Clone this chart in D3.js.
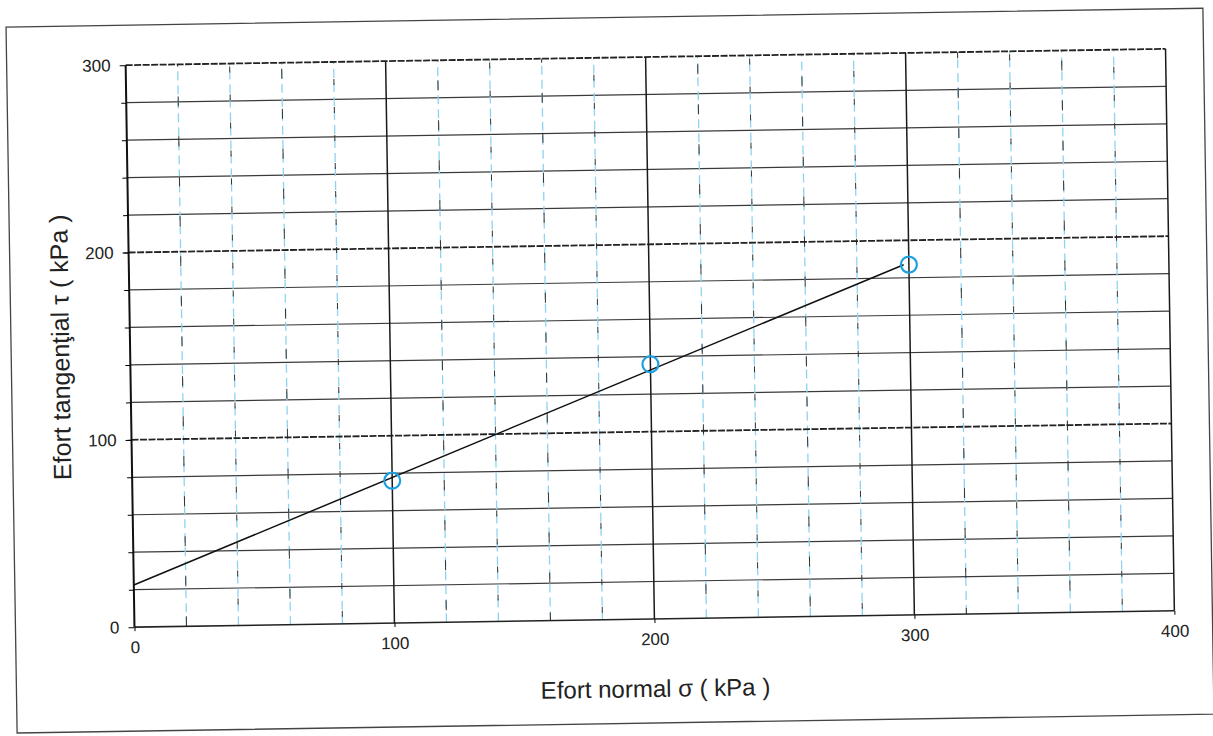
<!DOCTYPE html>
<html>
<head>
<meta charset="utf-8">
<script src="https://cdn.jsdelivr.net/npm/d3@7"></script>
<style>
  html, body { margin: 0; padding: 0; background: #ffffff; }
  svg { display: block; }
  text { font-family: "Liberation Sans", Arial, sans-serif; fill: #222; }
</style>
</head>
<body>
<div id="chart"></div>
<script>
// ---- data ----
const sigmaPoints = [100, 200, 300];          // normal stress (kPa)
const tauPoints   = [76, 136, 187];           // shear stress (kPa)
const trendSigma  = [0, 298];                 // trend line ends (kPa)
const trendTau    = [22.5, 187];
const xTicks = [0, 100, 200, 300, 400];
const yTicks = [0, 100, 200, 300];
const xMinor = d3.range(20, 400, 20);
const yMinor = d3.range(20, 300, 20);
const xTitle = "Efort normal σ  ( kPa )";
const yTitle = "Efort tangenţial τ ( kPa )";

// ---- layout ----
const W = 1213, H = 736;
const plot = { left: 130, top: 57, width: 1040, height: 562 };

const svg = d3.select("#chart").append("svg").attr("width", W).attr("height", H);
svg.append("rect").attr("width", W).attr("height", H).attr("fill", "#fff");

// whole scanned page is slightly rotated
const page = svg.append("g").attr("transform", "rotate(-0.9, 650, 338)");

// outer frame
page.append("rect")
  .attr("x", 11).attr("y", 17).attr("width", 1197).attr("height", 706)
  .attr("fill", "none").attr("stroke", "#444").attr("stroke-width", 1.3);

const x = d3.scaleLinear().domain([0, 400]).range([plot.left, plot.left + plot.width]);
const y = d3.scaleLinear().domain([0, 300]).range([plot.top + plot.height, plot.top]);

const g = page.append("g");

// minor horizontal grid (solid dark)
g.selectAll(".hminor").data(yMinor.filter(v => v % 100 !== 0)).join("line")
  .attr("x1", x(0)).attr("x2", x(400))
  .attr("y1", d => y(d)).attr("y2", d => y(d))
  .attr("stroke", "#3a3a3a").attr("stroke-width", 1.2);

// minor vertical grid (blue dashes + sparse black dashes)
const vmin = xMinor.filter(v => v % 100 !== 0);
g.selectAll(".vminorB").data(vmin).join("line")
  .attr("x1", d => x(d)).attr("x2", d => x(d))
  .attr("y1", y(0)).attr("y2", y(300))
  .attr("stroke", "#8fd3f0").attr("stroke-width", 1.3)
  .attr("stroke-dasharray", "9,5");
g.selectAll(".vminorK").data(vmin).join("line")
  .attr("x1", d => x(d)).attr("x2", d => x(d))
  .attr("y1", y(0)).attr("y2", y(300))
  .attr("stroke", "#333").attr("stroke-width", 1)
  .attr("stroke-dasharray", (d, i) => (i % 2 ? "6,22" : "10,30"))
  .attr("stroke-dashoffset", (d, i) => i * 7);

// major horizontal grid (heavy dashed)
g.selectAll(".hmajor").data([100, 200, 300]).join("line")
  .attr("x1", x(0)).attr("x2", x(400))
  .attr("y1", d => y(d)).attr("y2", d => y(d))
  .attr("stroke", "#222").attr("stroke-width", 1.8)
  .attr("stroke-dasharray", "7,1.5");

// major vertical grid (solid black)
g.selectAll(".vmajor").data([100, 200, 300, 400]).join("line")
  .attr("x1", d => x(d)).attr("x2", d => x(d))
  .attr("y1", y(0)).attr("y2", y(300))
  .attr("stroke", "#1a1a1a").attr("stroke-width", 1.5);

// axes lines
g.append("line").attr("x1", x(0)).attr("x2", x(0)).attr("y1", y(0)).attr("y2", y(300))
  .attr("stroke", "#111").attr("stroke-width", 2);
g.append("line").attr("x1", x(0)).attr("x2", x(400)).attr("y1", y(0)).attr("y2", y(0))
  .attr("stroke", "#222").attr("stroke-width", 1.6);

// axes ticks and labels
const xAxis = g.append("g").attr("transform", `translate(0,${y(0)})`)
  .call(d3.axisBottom(x).tickValues(xTicks).tickSize(4).tickPadding(10));
xAxis.attr("font-size", 17).attr("font-family", '"Liberation Sans", Arial, sans-serif');
xAxis.select(".domain").remove();
xAxis.selectAll("text").attr("fill", "#222");

const yAxisMinor = g.append("g").attr("transform", `translate(${x(0)},0)`)
  .call(d3.axisLeft(y).tickValues(yMinor).tickSize(5).tickFormat(""));
yAxisMinor.select(".domain").remove();

const yAxis = g.append("g").attr("transform", `translate(${x(0)},0)`)
  .call(d3.axisLeft(y).tickValues(yTicks).tickSize(6).tickPadding(9));
yAxis.attr("font-size", 17).attr("font-family", '"Liberation Sans", Arial, sans-serif');
yAxis.select(".domain").remove();
yAxis.selectAll("text").attr("fill", "#222");

// trend line
const trend = trendSigma.map((s, i) => [s, trendTau[i]]);
g.append("path").datum(trend)
  .attr("d", d3.line().x(d => x(d[0])).y(d => y(d[1])))
  .attr("fill", "none").attr("stroke", "#111").attr("stroke-width", 1.5);

// data points
g.selectAll(".pt").data(sigmaPoints.map((s, i) => [s, tauPoints[i]])).join("circle")
  .attr("cx", d => x(d[0])).attr("cy", d => y(d[1])).attr("r", 8)
  .attr("fill", "none").attr("stroke", "#1e9fe0").attr("stroke-width", 2.2);

// axis titles
g.append("text")
  .attr("x", x(200)).attr("y", 697)
  .attr("text-anchor", "middle").attr("font-size", 24)
  .text(xTitle);

g.append("text")
  .attr("transform", `translate(69,${(y(0) + y(300)) / 2}) rotate(-90)`)
  .attr("text-anchor", "middle").attr("font-size", 25)
  .text(yTitle);
</script>
</body>
</html>
